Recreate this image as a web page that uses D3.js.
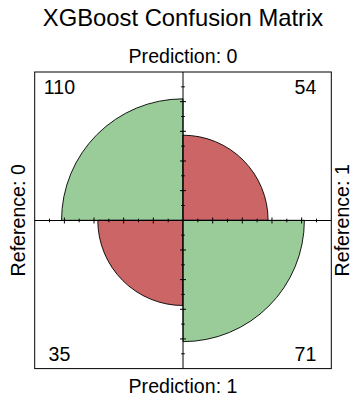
<!DOCTYPE html>
<html>
<head>
<meta charset="utf-8">
<script src="https://cdn.jsdelivr.net/npm/d3@7"></script>
<style>
  html, body { margin: 0; padding: 0; background: #fff; }
  svg { display: block; font-family: "Liberation Sans", Arial, Helvetica, sans-serif; }
</style>
</head>
<body>
<svg id="chart" width="352" height="398"></svg>
<script>
// ---- data ----
const title = "XGBoost Confusion Matrix";
const predictionLevels = ["0", "1"];   // rows (top / bottom)
const referenceLevels = ["0", "1"];    // columns (left / right)
const countsRow0 = [110, 54];          // Prediction 0 : Reference 0, Reference 1
const countsRow1 = [35, 71];           // Prediction 1 : Reference 0, Reference 1
const tickValues = [0.1, 0.2, 0.3, 0.4, 0.5, 0.6, 0.7, 0.8, 0.9];
const colors = ["#CC6666", "#99CC99"]; // off-diagonal, diagonal

// ---- layout ----
const cx = 183, cy = 220.3, unit = 148.3;
const svg = d3.select("#chart");

const x = d3.scaleLinear().domain([-1, 1]).range([cx - unit, cx + unit]);
const y = d3.scaleLinear().domain([-1, 1]).range([cy + unit, cy - unit]);
const r = d3.scaleSqrt().domain([0, 1]).range([0, unit]);

// standardize rows (margin = 1)
const table = [countsRow0, countsRow1];
const std = table.map(row => { const s = d3.sum(row); return row.map(v => v / s); });

// quadrant definitions: [row, col, startAngle, endAngle]
const quads = [
  { i: 0, j: 0, a0: -Math.PI / 2, a1: 0 },          // top-left
  { i: 0, j: 1, a0: 0, a1: Math.PI / 2 },           // top-right
  { i: 1, j: 0, a0: Math.PI, a1: 1.5 * Math.PI },   // bottom-left
  { i: 1, j: 1, a0: Math.PI / 2, a1: Math.PI }      // bottom-right
];

const arc = d3.arc().innerRadius(0);
svg.append("g").attr("transform", `translate(${x(0)},${y(0)})`)
  .selectAll("path").data(quads).join("path")
  .attr("d", d => arc({ outerRadius: r(std[d.i][d.j]), startAngle: d.a0, endAngle: d.a1 }))
  .attr("fill", d => colors[d.i === d.j ? 1 : 0])
  .attr("stroke", "#000").attr("stroke-width", 0.9);

// axes through centre
const ax = svg.append("g").attr("stroke", "#000").attr("stroke-width", 1);
ax.append("line").attr("x1", x(-1)).attr("x2", x(1)).attr("y1", Math.round(y(0)) + 0.5).attr("y2", Math.round(y(0)) + 0.5);
ax.append("line").attr("x1", x(0)).attr("x2", x(0)).attr("y1", y(-1)).attr("y2", y(1));

// ticks
const allTicks = tickValues.flatMap(t => [t, -t]);
const tickLen = t => (Math.round(Math.abs(t) * 10) % 2 === 0 ? 3 : 1.8);
const hy = Math.round(y(0)) + 0.5;
ax.selectAll(".tx").data(allTicks).join("line")
  .attr("x1", d => x(d)).attr("x2", d => x(d))
  .attr("y1", d => hy - tickLen(d)).attr("y2", d => hy + tickLen(d));
ax.selectAll(".ty").data(allTicks).join("line")
  .attr("y1", d => y(d)).attr("y2", d => y(d))
  .attr("x1", d => x(0) - tickLen(d)).attr("x2", d => x(0) + tickLen(d));

// box
svg.append("rect")
  .attr("x", x(-1)).attr("y", y(1))
  .attr("width", x(1) - x(-1)).attr("height", y(-1) - y(1))
  .attr("fill", "none").attr("stroke", "#000").attr("stroke-width", 1);

// title & labels
const fs = 19.6;
svg.append("text").attr("x", cx).attr("y", 26).attr("text-anchor", "middle")
  .attr("font-size", 23.8).text(title);
svg.append("text").attr("x", cx).attr("y", 63).attr("text-anchor", "middle")
  .attr("font-size", fs).text("Prediction: " + predictionLevels[0]);
svg.append("text").attr("x", cx).attr("y", 392.5).attr("text-anchor", "middle")
  .attr("font-size", fs).text("Prediction: " + predictionLevels[1]);
svg.append("text").attr("transform", `translate(25,${cy}) rotate(-90)`).attr("text-anchor", "middle")
  .attr("font-size", fs).text("Reference: " + referenceLevels[0]);
svg.append("text").attr("transform", `translate(348.5,${cy}) rotate(-90)`).attr("text-anchor", "middle")
  .attr("font-size", fs).text("Reference: " + referenceLevels[1]);

// counts
const countPos = [
  { i: 0, j: 0, px: -0.833, py: 0.9 },
  { i: 0, j: 1, px: 0.826, py: 0.9 },
  { i: 1, j: 0, px: -0.833, py: -0.9 },
  { i: 1, j: 1, px: 0.826, py: -0.9 }
];
svg.selectAll(".cnt").data(countPos).join("text")
  .attr("x", d => x(d.px)).attr("y", d => y(d.py))
  .attr("dy", "0.35em")
  .attr("text-anchor", "middle").attr("font-size", fs)
  .text(d => table[d.i][d.j]);
</script>
</body>
</html>
